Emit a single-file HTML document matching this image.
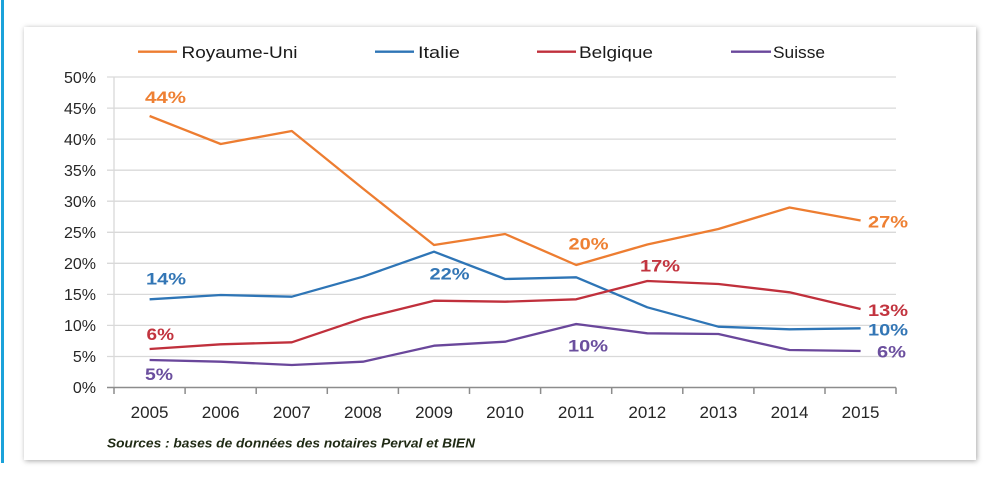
<!DOCTYPE html>
<html><head><meta charset="utf-8"><style>
html,body{margin:0;padding:0;background:#fff;}
body{width:1000px;height:490px;overflow:hidden;position:relative;}
.bar{position:absolute;left:1px;top:0;width:3px;height:463px;background:#1ba2da;}
.panel{position:absolute;left:24px;top:27px;width:952px;height:433px;background:#fff;box-shadow:1px 1px 5px rgba(0,0,0,0.35);}
svg{position:absolute;left:0;top:0;}
text{font-family:"Liberation Sans",sans-serif;}
</style></head><body>
<div class="bar"></div>
<div class="panel"></div>
<svg width="1000" height="490" viewBox="0 0 1000 490">
<g stroke="#d9d9d9" stroke-width="1.3">
<line x1="107" y1="77" x2="896" y2="77"/>
<line x1="107" y1="108.1" x2="896" y2="108.1"/>
<line x1="107" y1="139.1" x2="896" y2="139.1"/>
<line x1="107" y1="170.2" x2="896" y2="170.2"/>
<line x1="107" y1="201.2" x2="896" y2="201.2"/>
<line x1="107" y1="232.3" x2="896" y2="232.3"/>
<line x1="107" y1="263.3" x2="896" y2="263.3"/>
<line x1="107" y1="294.4" x2="896" y2="294.4"/>
<line x1="107" y1="325.4" x2="896" y2="325.4"/>
<line x1="107" y1="356.5" x2="896" y2="356.5"/>
<line x1="114" y1="77" x2="114" y2="387.5"/>
</g>
<g stroke="#8c8c8c" stroke-width="1.5">
<line x1="107" y1="387.5" x2="896" y2="387.5"/>
<line x1="114" y1="387.5" x2="114" y2="394"/>
<line x1="185.1" y1="387.5" x2="185.1" y2="394"/>
<line x1="256.2" y1="387.5" x2="256.2" y2="394"/>
<line x1="327.3" y1="387.5" x2="327.3" y2="394"/>
<line x1="398.4" y1="387.5" x2="398.4" y2="394"/>
<line x1="469.5" y1="387.5" x2="469.5" y2="394"/>
<line x1="540.6" y1="387.5" x2="540.6" y2="394"/>
<line x1="611.7" y1="387.5" x2="611.7" y2="394"/>
<line x1="682.8" y1="387.5" x2="682.8" y2="394"/>
<line x1="753.9" y1="387.5" x2="753.9" y2="394"/>
<line x1="825" y1="387.5" x2="825" y2="394"/>
<line x1="896" y1="387.5" x2="896" y2="394"/>
</g>
<g font-size="16" fill="#262626" text-anchor="end">
<text x="96" y="83">50%</text>
<text x="96" y="114">45%</text>
<text x="96" y="145">40%</text>
<text x="96" y="176">35%</text>
<text x="96" y="207">30%</text>
<text x="96" y="238">25%</text>
<text x="96" y="269">20%</text>
<text x="96" y="300">15%</text>
<text x="96" y="331">10%</text>
<text x="96" y="362">5%</text>
<text x="96" y="393">0%</text>
</g>
<g font-size="17" fill="#262626" text-anchor="middle">
<text x="149.6" y="418">2005</text>
<text x="220.7" y="418">2006</text>
<text x="291.8" y="418">2007</text>
<text x="362.9" y="418">2008</text>
<text x="434" y="418">2009</text>
<text x="505.1" y="418">2010</text>
<text x="576.2" y="418">2011</text>
<text x="647.3" y="418">2012</text>
<text x="718.4" y="418">2013</text>
<text x="789.5" y="418">2014</text>
<text x="860.6" y="418">2015</text>
</g>
<g fill="none" stroke-width="2.3" stroke-linejoin="round">
<polyline stroke="#ed7d31" points="149.6,116 220.7,144 291.8,131 362.9,188.5 434,245 505.1,234 576.2,265 647.3,244.5 718.4,229 789.5,207.5 860.6,220.5"/>
<polyline stroke="#2e75b6" points="149.6,299.3 220.7,295 291.8,296.7 362.9,276.7 434,251.7 505.1,279 576.2,277.3 647.3,307.3 718.4,326.7 789.5,329.3 860.6,328.3"/>
<polyline stroke="#c0303c" points="149.6,349 220.7,344.3 291.8,342.3 362.9,318.3 434,300.7 505.1,301.7 576.2,299.3 647.3,281 718.4,284 789.5,292.3 860.6,309"/>
<polyline stroke="#6a479b" points="149.6,360 220.7,361.7 291.8,365 362.9,361.7 434,345.7 505.1,341.7 576.2,324 647.3,333.3 718.4,334 789.5,350 860.6,351"/>
</g>
<g stroke-width="2.3">
<line x1="138" y1="51.7" x2="177" y2="51.7" stroke="#ed7d31"/>
<line x1="375" y1="51.7" x2="414" y2="51.7" stroke="#2e75b6"/>
<line x1="537" y1="51.7" x2="576" y2="51.7" stroke="#c0303c"/>
<line x1="731" y1="51.7" x2="771" y2="51.7" stroke="#6a479b"/>
</g>
<g font-size="17" fill="#1a1a1a">
<text x="181.5" y="57.8" textLength="116" lengthAdjust="spacingAndGlyphs">Royaume-Uni</text>
<text x="418" y="57.8" textLength="42" lengthAdjust="spacingAndGlyphs">Italie</text>
<text x="579" y="57.8" textLength="74" lengthAdjust="spacingAndGlyphs">Belgique</text>
<text x="773" y="57.8" textLength="52" lengthAdjust="spacingAndGlyphs">Suisse</text>
</g>
<g font-size="17" font-weight="bold" lengthAdjust="spacingAndGlyphs">
<text x="145" y="103" fill="#ee8033" textLength="41" lengthAdjust="spacingAndGlyphs">44%</text>
<text x="146" y="284.5" fill="#3376b5" textLength="40" lengthAdjust="spacingAndGlyphs">14%</text>
<text x="429.5" y="279.5" fill="#3376b5" textLength="40" lengthAdjust="spacingAndGlyphs">22%</text>
<text x="146.5" y="340" fill="#c2343f" textLength="27.5" lengthAdjust="spacingAndGlyphs">6%</text>
<text x="145" y="380" fill="#6b4f9e" textLength="28" lengthAdjust="spacingAndGlyphs">5%</text>
<text x="568.5" y="249.3" fill="#ee8033" textLength="40" lengthAdjust="spacingAndGlyphs">20%</text>
<text x="868" y="227.7" fill="#ee8033" textLength="40" lengthAdjust="spacingAndGlyphs">27%</text>
<text x="640" y="271.7" fill="#c2343f" textLength="40" lengthAdjust="spacingAndGlyphs">17%</text>
<text x="868" y="316" fill="#c2343f" textLength="40" lengthAdjust="spacingAndGlyphs">13%</text>
<text x="868" y="335.3" fill="#3376b5" textLength="40" lengthAdjust="spacingAndGlyphs">10%</text>
<text x="877" y="357.7" fill="#6b4f9e" textLength="29" lengthAdjust="spacingAndGlyphs">6%</text>
<text x="568" y="351.7" fill="#6b4f9e" textLength="40" lengthAdjust="spacingAndGlyphs">10%</text>
</g>
<text x="107" y="447.3" font-size="13" font-style="italic" font-weight="bold" fill="#1f2a14" textLength="368" lengthAdjust="spacingAndGlyphs">Sources : bases de données des notaires Perval et BIEN</text>
</svg>
</body></html>
